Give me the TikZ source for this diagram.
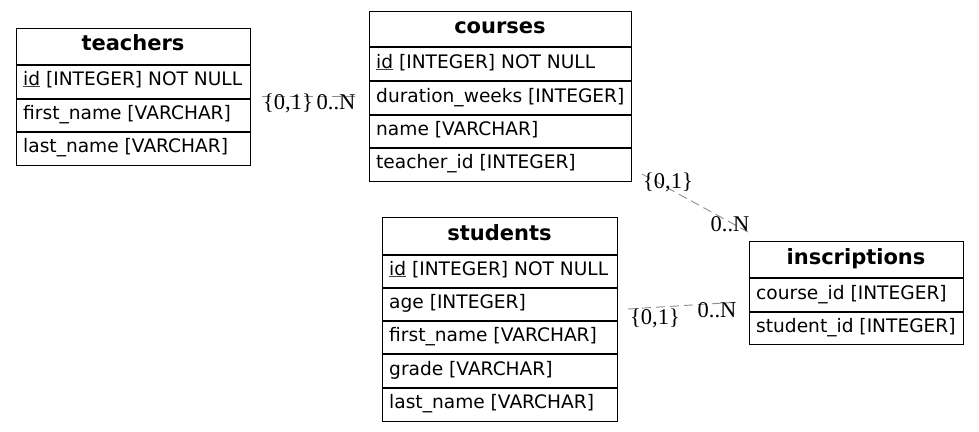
\documentclass[tikz,border=0pt]{standalone}
\usepackage{fontspec}
\setmainfont{DejaVu Sans}
\newfontfamily\lblfont{Liberation Serif}
\newcommand{\pk}[1]{\textcolor{black!75}{\underline{\textcolor{black}{#1}}}}
\tikzset{
  tbox/.style={draw=black, line width=1pt, rectangle, inner sep=0pt, anchor=north west},
  sep/.style={draw=black, line width=1.2pt},
  ttl/.style={anchor=base, inner sep=0pt, font=\fontsize{21}{24}\selectfont\bfseries},
  row/.style={anchor=base west, inner sep=0pt, font=\fontsize{18.6}{22}\selectfont},
  rel/.style={draw=gray!90, line width=0.9pt, dash pattern=on 9pt off 5pt},
  card/.style={anchor=base, inner sep=0pt, font=\lblfont\fontsize{22.5}{25}\selectfont},
}
\begin{document}
\begin{tikzpicture}[x=1pt,y=-1pt]
\useasboundingbox (0,0) rectangle (979,431);
% teachers
\node[tbox, minimum width=234pt, minimum height=137pt] (teachers) at (16,28) {};
\draw[sep] (16,65) -- (250,65);
\draw[sep] (16,99) -- (250,99);
\draw[sep] (16,132) -- (250,132);
\node[ttl] (teachers-t) at (133,50) {teachers};
\node[row] (teachers-1) at (23,85) {\pk{id} [INTEGER] NOT NULL};
\node[row] (teachers-2) at (23,119) {first\_name [VARCHAR]};
\node[row] (teachers-3) at (23,152) {last\_name [VARCHAR]};
% courses
\node[tbox, minimum width=262pt, minimum height=170pt] (courses) at (369,11) {};
\draw[sep] (369,47) -- (631,47);
\draw[sep] (369,81) -- (631,81);
\draw[sep] (369,115) -- (631,115);
\draw[sep] (369,148) -- (631,148);
\node[ttl] (courses-t) at (500,33) {courses};
\node[row] (courses-1) at (376,68) {\pk{id} [INTEGER] NOT NULL};
\node[row] (courses-2) at (376,102) {duration\_weeks [INTEGER]};
\node[row] (courses-3) at (376,135) {name [VARCHAR]};
\node[row] (courses-4) at (376,168) {teacher\_id [INTEGER]};
% students
\node[tbox, minimum width=235pt, minimum height=204pt] (students) at (382,217) {};
\draw[sep] (382,255) -- (617,255);
\draw[sep] (382,288) -- (617,288);
\draw[sep] (382,321) -- (617,321);
\draw[sep] (382,354) -- (617,354);
\draw[sep] (382,388) -- (617,388);
\node[ttl] (students-t) at (499.5,240) {students};
\node[row] (students-1) at (389,275) {\pk{id} [INTEGER] NOT NULL};
\node[row] (students-2) at (389,308) {age [INTEGER]};
\node[row] (students-3) at (389,341) {first\_name [VARCHAR]};
\node[row] (students-4) at (389,375) {grade [VARCHAR]};
\node[row] (students-5) at (389,408) {last\_name [VARCHAR]};
% inscriptions
\node[tbox, minimum width=214pt, minimum height=103pt] (inscriptions) at (749,241) {};
\draw[sep] (749,278) -- (963,278);
\draw[sep] (749,312) -- (963,312);
\node[ttl] (inscriptions-t) at (856,264) {inscriptions};
\node[row] (inscriptions-1) at (756,299) {course\_id [INTEGER]};
\node[row] (inscriptions-2) at (756,332) {student\_id [INTEGER]};
% relations
\coordinate (tc-a) at (262,96);
\coordinate (tc-b) at (358,96);
\draw[rel] (tc-a) -- (tc-b);
\node[card] (tc-1) at (288,109) {\{0,1\}};
\node[card] (tc-2) at (336,109) {0..N};
\coordinate (ci-a) at (642,174);
\coordinate (ci-b) at (748,232);
\draw[rel] (ci-a) -- (ci-b);
\node[card] (ci-1) at (668,188) {\{0,1\}};
\node[card] (ci-2) at (730,231) {0..N};
\coordinate (si-a) at (628,309);
\coordinate (si-b) at (740,302);
\draw[rel] (si-a) -- (si-b);
\node[card] (si-1) at (655,324) {\{0,1\}};
\node[card] (si-2) at (717,317) {0..N};
\end{tikzpicture}
\end{document}
